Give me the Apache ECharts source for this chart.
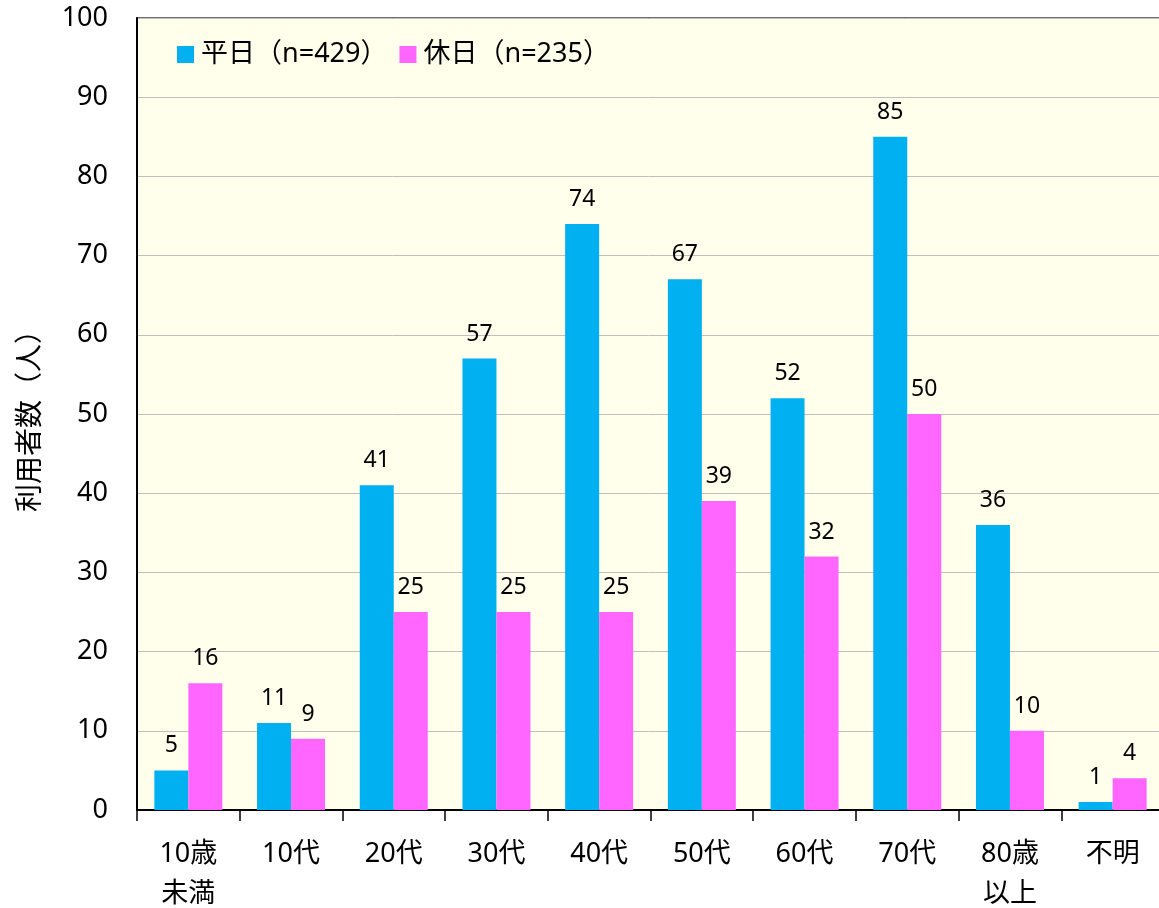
<!DOCTYPE html>
<html>
<head>
<meta charset="utf-8">
<script src="https://cdn.jsdelivr.net/npm/echarts@6/dist/echarts.min.js"></script>
<style>
  html, body { margin: 0; padding: 0; background: #fff; }
  #main { width: 1159px; height: 908px; }
</style>
</head>
<body>
<div id="main"></div>
<script>
// 年代別の利用者数
var categories = ['10歳\n未満', '10代', '20代', '30代', '40代', '50代', '60代', '70代', '80歳\n以上', '不明'];
var weekday = [5, 11, 41, 57, 74, 67, 52, 85, 36, 1];
var holiday = [16, 9, 25, 25, 25, 39, 32, 50, 10, 4];
var seriesNames = ['平日（n=429）', '休日（n=235）'];
var fontFam = '"Noto Sans", "Noto Sans CJK JP", sans-serif';

var chart = echarts.init(document.getElementById('main'), null, { renderer: 'canvas' });

var option = {
  backgroundColor: '#fff',
  textStyle: { fontFamily: fontFam },
  legend: {
    left: 172,
    top: 36,
    itemWidth: 17,
    itemHeight: 17,
    itemGap: 12,
    icon: 'rect',
    textStyle: { fontSize: 27, color: '#000', fontFamily: fontFam, padding: [0, 0, 0, 2] },
    data: seriesNames
  },
  grid: {
    left: 137,
    top: 18,
    width: 1027,
    bottom: 98,
    outerBoundsMode: 'none',
    containLabel: false,
    show: true,
    backgroundColor: '#FFFFEB',
    borderColor: '#404040',
    borderWidth: 1.5
  },
  xAxis: {
    type: 'category',
    data: categories,
    axisLine: { lineStyle: { color: '#000', width: 2 } },
    axisTick: { show: true, length: 11, inside: false, lineStyle: { color: '#000', width: 1.5 } },
    axisLabel: { fontSize: 27, color: '#000', margin: 24, lineHeight: 40, fontFamily: fontFam }
  },
  yAxis: {
    type: 'value',
    min: 0,
    max: 100,
    interval: 10,
    name: '利用者数（人）',
    nameLocation: 'middle',
    nameGap: 92,
    nameTextStyle: { fontSize: 28, color: '#000', fontFamily: fontFam },
    axisLine: { show: true, lineStyle: { color: '#000', width: 2 } },
    axisTick: { show: false },
    splitLine: { lineStyle: { color: '#BFBFBF', width: 1 } },
    axisLabel: { fontSize: 27, color: '#000', margin: 29, fontFamily: fontFam }
  },
  series: [
    {
      name: seriesNames[0],
      type: 'bar',
      data: weekday,
      barWidth: 34,
      barGap: '0%',
      itemStyle: { color: '#00B0F0' },
      label: { show: true, position: 'top', distance: 13, fontSize: 23, color: '#000', fontFamily: fontFam }
    },
    {
      name: seriesNames[1],
      type: 'bar',
      data: holiday,
      barWidth: 34,
      barGap: '0%',
      itemStyle: { color: '#FF66FF' },
      label: { show: true, position: 'top', distance: 13, fontSize: 23, color: '#000', fontFamily: fontFam }
    }
  ]
};

chart.setOption(option);
</script>
</body>
</html>
